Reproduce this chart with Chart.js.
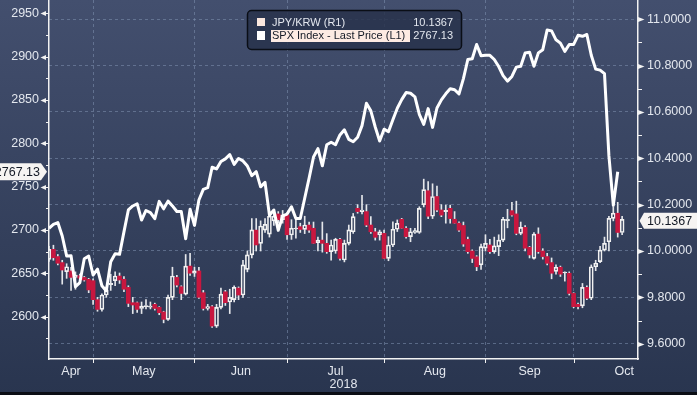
<!DOCTYPE html>
<html>
<head>
<meta charset="utf-8">
<script src="https://cdn.jsdelivr.net/npm/chart.js@4"></script>
<style>
  html, body { margin: 0; padding: 0; background: #2c3852; }
  #wrap { width: 697px; height: 395px; }
</style>
</head>
<body>
<div id="wrap"><canvas id="chart" width="697" height="395"></canvas></div>
<script>
// ── Data (weekday index 0 = first day on the chart) ──────────
const months = ['Apr', 'May', 'Jun', 'Jul', 'Aug', 'Sep', 'Oct'];
const monthStart = [-11, 10, 33, 54, 76, 99, 119, 142]; // first weekday of each month, last = Nov
const yearLabel = '2018';

const leftTickLabels = [2600, 2650, 2700, 2750, 2800, 2850, 2900, 2950];
const rightTickLabels = [9.6, 9.8, 10.0, 10.2, 10.4, 10.6, 10.8, 11.0];

const spxName = 'SPX Index - Last Price (L1)';
const krwName = 'JPY/KRW (R1)';

// SPX Index, left axis
const spx = [
  2702, 2706.4, 2708.6, 2693.1, 2670.1, 2670.3, 2634.6, 2639.4, 2666.9, 2669.9,
  2648.1, 2654.8, 2635.7, 2629.7, 2663.4, 2672.6, 2671.9, 2697.8, 2723.1, 2727.7,
  2730.1, 2711.5, 2722.5, 2720.1, 2713.0, 2733.0, 2724.4, 2733.3, 2727.8, 2721.3,
  2721.3, 2689.9, 2724.0, 2705.3, 2734.6, 2746.9, 2748.8, 2772.4, 2770.4, 2779.0,
  2782.0, 2786.9, 2775.6, 2782.5, 2779.7, 2773.8, 2762.6, 2767.3, 2749.8, 2754.9,
  2717.1, 2723.1, 2699.6, 2716.3, 2718.4, 2726.7, 2713.2, 2713.2, 2736.6, 2759.8,
  2784.2, 2793.8, 2774.0, 2798.3, 2801.3, 2798.4, 2809.6, 2815.6, 2804.5, 2801.8,
  2807.0, 2820.4, 2846.1, 2837.4, 2818.8, 2802.6, 2816.3, 2813.4, 2827.2, 2840.4,
  2850.4, 2858.5, 2857.7, 2853.6, 2833.3, 2821.9, 2840.0, 2818.4, 2840.7, 2850.1,
  2857.1, 2863.0, 2861.8, 2857.0, 2874.7, 2896.7, 2897.5, 2914.0, 2901.1, 2901.5,
  2901.5, 2896.7, 2888.6, 2878.1, 2871.7, 2877.1, 2887.9, 2888.9, 2904.2, 2905.0,
  2888.8, 2904.3, 2908.0, 2930.8, 2929.7, 2919.4, 2915.6, 2906.0, 2914.0, 2914.0,
  2924.6, 2923.4, 2925.5, 2901.6, 2885.6, 2884.4, 2880.3, 2785.7, 2728.4, 2767.13
];

// JPY/KRW daily candles, right axis
const krwOpen = [
  9.964, 10.007, 9.976, 9.95, 9.911, 9.914, 9.886, 9.893, 9.886, 9.878,
  9.872, 9.79, 9.748, 9.81, 9.855, 9.872, 9.892, 9.878, 9.843, 9.777,
  9.777, 9.752, 9.76, 9.758, 9.77, 9.757, 9.737, 9.705, 9.80, 9.886,
  9.846, 9.814, 9.935, 9.904, 9.914, 9.82, 9.752, 9.76, 9.676, 9.757,
  9.824, 9.78, 9.79, 9.84, 9.81, 9.921, 9.983, 10.09, 10.033, 10.09,
  10.073, 10.13, 10.16, 10.135, 10.155, 10.069, 10.095, 10.105, 10.093, 10.112,
  10.098, 10.036, 10.047, 10.033, 9.997, 10.0, 10.05, 9.961, 10.033, 10.083,
  10.184, 10.17, 10.17, 10.112, 10.083, 10.07, 10.076, 9.968, 10.026, 10.094,
  10.137, 10.098, 10.062, 10.08, 10.08, 10.2, 10.26, 10.15, 10.235, 10.177,
  10.17, 10.184, 10.137, 10.12, 10.11, 10.05, 10.0, 9.975, 9.94, 10.012,
  10.026, 9.997, 10.019, 10.047, 10.131, 10.174, 10.16, 10.076, 10.102, 10.016,
  9.968, 10.073, 10.0, 9.976, 9.95, 9.912, 9.93, 9.905, 9.904, 9.817,
  9.77, 9.763, 9.843, 9.796, 9.932, 9.954, 10.004, 10.04, 10.141, 10.163,
  10.08
];
const krwHigh = [
  10.02, 10.025, 9.985, 9.96, 9.945, 9.93, 9.91, 9.90, 9.89, 9.882,
  9.88, 9.80, 9.815, 9.845, 9.90, 9.91, 9.905, 9.89, 9.85, 9.80,
  9.78, 9.78, 9.79, 9.78, 9.775, 9.76, 9.74, 9.81, 9.93, 9.895,
  9.85, 9.985, 9.99, 9.93, 9.93, 9.83, 9.77, 9.765, 9.77, 9.84,
  9.83, 9.835, 9.85, 9.845, 9.96, 10.0, 10.14, 10.14, 10.13, 10.14,
  10.17, 10.17, 10.17, 10.175, 10.165, 10.135, 10.14, 10.12, 10.15, 10.125,
  10.125, 10.06, 10.125, 10.075, 10.047, 10.055, 10.055, 10.047, 10.112, 10.162,
  10.2, 10.24, 10.2, 10.148, 10.098, 10.09, 10.09, 10.062, 10.126, 10.134,
  10.141, 10.105, 10.098, 10.098, 10.191, 10.31, 10.30, 10.29, 10.28, 10.2,
  10.198, 10.198, 10.17, 10.126, 10.125, 10.06, 10.005, 9.98, 10.03, 10.07,
  10.05, 10.06, 10.07, 10.145, 10.18, 10.21, 10.215, 10.125, 10.11, 10.02,
  10.08, 10.10, 10.01, 9.99, 9.97, 9.94, 9.935, 9.91, 9.91, 9.82,
  9.775, 9.86, 9.85, 9.94, 9.96, 10.02, 10.06, 10.15, 10.19, 10.21,
  10.15
];
const krwLow = [
  9.955, 9.96, 9.94, 9.857, 9.882, 9.83, 9.835, 9.875, 9.87, 9.82,
  9.77, 9.74, 9.74, 9.80, 9.83, 9.85, 9.86, 9.825, 9.76, 9.73,
  9.735, 9.73, 9.75, 9.75, 9.745, 9.725, 9.69, 9.70, 9.79, 9.845,
  9.79, 9.81, 9.895, 9.89, 9.795, 9.745, 9.745, 9.67, 9.67, 9.75,
  9.765, 9.73, 9.78, 9.79, 9.80, 9.91, 9.97, 10.0, 10.0, 10.08,
  10.06, 10.11, 10.12, 10.12, 10.05, 10.05, 10.055, 10.08, 10.075, 10.08,
  10.033, 10.0, 9.995, 9.99, 9.96, 9.99, 9.96, 9.953, 10.026, 10.076,
  10.163, 10.16, 10.105, 10.076, 10.047, 10.047, 9.968, 9.958, 10.019, 10.084,
  10.098, 10.055, 10.04, 10.076, 10.076, 10.19, 10.14, 10.14, 10.17, 10.148,
  10.12, 10.12, 10.12, 10.084, 10.02, 9.99, 9.95, 9.915, 9.92, 10.0,
  9.99, 9.99, 9.98, 10.04, 10.10, 10.15, 10.07, 10.07, 10.0, 9.97,
  9.965, 9.99, 9.965, 9.94, 9.88, 9.90, 9.89, 9.87, 9.81, 9.755,
  9.75, 9.755, 9.79, 9.79, 9.915, 9.95, 10.0, 10.0, 10.13, 10.06,
  10.07
];
const krwClose = [
  10.007, 9.971, 9.947, 9.918, 9.932, 9.886, 9.896, 9.882, 9.875, 9.832,
  9.79, 9.748, 9.81, 9.832, 9.86, 9.892, 9.875, 9.835, 9.774, 9.767,
  9.748, 9.762, 9.765, 9.762, 9.752, 9.734, 9.705, 9.80, 9.892, 9.853,
  9.817, 9.935, 9.904, 9.914, 9.80, 9.752, 9.76, 9.676, 9.757, 9.814,
  9.777, 9.80, 9.843, 9.81, 9.94, 9.983, 10.091, 10.026, 10.108, 10.115,
  10.15, 10.15, 10.135, 10.155, 10.07, 10.098, 10.097, 10.093, 10.112, 10.09,
  10.033, 10.047, 10.033, 9.997, 10.026, 10.05, 9.968, 10.033, 10.091, 10.148,
  10.17, 10.177, 10.112, 10.083, 10.059, 10.083, 9.968, 10.026, 10.094, 10.119,
  10.098, 10.062, 10.083, 10.088, 10.184, 10.265, 10.15, 10.235, 10.177, 10.155,
  10.175, 10.14, 10.12, 10.09, 10.03, 9.997, 9.968, 9.932, 10.019, 10.033,
  9.997, 10.022, 10.047, 10.137, 10.137, 10.155, 10.076, 10.102, 10.012, 9.983,
  10.073, 9.997, 9.976, 9.947, 9.904, 9.93, 9.90, 9.907, 9.817, 9.76,
  9.76, 9.843, 9.796, 9.932, 9.947, 10.004, 10.033, 10.141, 10.163, 10.08,
  10.1367
];

// ── Look ─────────────────────────────────────
const FONT = "'Liberation Sans', Arial, sans-serif";
const TXT = '#e3e7ee';
const GRID = 'rgba(128,146,176,0.55)';
const RED = '#c8173f';
const WHITE = '#f2f2f2';
const X_MAX = 133.6;

const lastSpx = spx[spx.length - 1];
const lastKrw = krwClose[krwClose.length - 1];

// x ticks: month boundaries (grid) + month centres (labels)
const xTicks = [];
monthStart.slice(1, -1).forEach(v => xTicks.push({ value: v, label: '', edge: true }));
months.forEach((m, k) => {
  const a = Math.max(monthStart[k], 0);
  const b = monthStart[k + 1];
  xTicks.push({ value: Math.min((a + b) / 2, X_MAX - 3), label: m, edge: false });
});
xTicks.sort((p, q) => p.value - q.value);

const leftTicks = [];
leftTickLabels.forEach(v => { leftTicks.push(v - 25); leftTicks.push(v); });
const rightTicks = [];
rightTickLabels.forEach(v => { rightTicks.push(v); rightTicks.push(+(v + 0.1).toFixed(1)); });

const isUp = i => krwClose[i] >= krwOpen[i];
const idx = krwClose.map((_, i) => i);

// ── Plugins ───────────────────────────────────
const bgPlugin = {
  id: 'bg',
  beforeDraw(chart) {
    const { ctx, width, height } = chart;
    const g = ctx.createLinearGradient(0, 0, 0, height);
    g.addColorStop(0, '#434f6e');
    g.addColorStop(1, '#29354f');
    ctx.save();
    ctx.fillStyle = g;
    ctx.fillRect(0, 0, width, height);
    ctx.fillStyle = '#0b0e15';
    ctx.fillRect(0, height - 3, width, 3);
    ctx.restore();
  }
};

function tagPath(ctx, pts) {
  ctx.beginPath();
  pts.forEach((p, k) => k ? ctx.lineTo(p[0], p[1]) : ctx.moveTo(p[0], p[1]));
  ctx.closePath();
}

const decoPlugin = {
  id: 'deco',
  afterDraw(chart) {
    const ctx = chart.ctx;
    const { left, right, bottom } = chart.chartArea;
    const yl = chart.scales.y, yr = chart.scales.y1, xs = chart.scales.x;
    ctx.save();
    ctx.fillStyle = WHITE;
    ctx.strokeStyle = WHITE;
    ctx.lineWidth = 1;

    // left axis marks
    leftTicks.forEach(v => {
      if (v < yl.min || v > yl.max) return;
      const p = Math.round(yl.getPixelForValue(v)) + 0.5;
      if (v % 50 === 0) {
        ctx.beginPath(); ctx.moveTo(45, p); ctx.lineTo(left, p); ctx.stroke();
        tagPath(ctx, [[40.5, p], [46, p - 2.5], [46, p + 2.5]]); ctx.fill();
      } else {
        ctx.beginPath(); ctx.moveTo(left - 3, p); ctx.lineTo(left, p); ctx.stroke();
      }
    });
    // right axis marks
    rightTicks.forEach(v => {
      if (v < yr.min || v > yr.max) return;
      const p = Math.round(yr.getPixelForValue(v)) + 0.5;
      if (Math.round(v * 10) % 2 === 0) {
        tagPath(ctx, [[right, p - 2.5], [right + 6.5, p], [right, p + 2.5]]); ctx.fill();
      } else {
        ctx.beginPath(); ctx.moveTo(right, p); ctx.lineTo(right + 4, p); ctx.stroke();
      }
    });
    // month boundary marks
    xTicks.filter(t => t.edge).forEach(t => {
      const p = Math.round(xs.getPixelForValue(t.value)) + 0.5;
      ctx.beginPath(); ctx.moveTo(p, bottom); ctx.lineTo(p, bottom + 4); ctx.stroke();
    });

    // last value tags
    ctx.font = '12.5px ' + FONT;
    ctx.textBaseline = 'middle';
    const pl = yl.getPixelForValue(lastSpx);
    ctx.fillStyle = '#f6f4f2';
    tagPath(ctx, [[-2, pl - 8.5], [41, pl - 8.5], [47, pl], [41, pl + 8.5], [-2, pl + 8.5]]);
    ctx.fill();
    ctx.fillStyle = '#141a26';
    ctx.textAlign = 'right';
    ctx.fillText(lastSpx.toFixed(2), 40, pl + 0.5);

    const pr = yr.getPixelForValue(lastKrw) + 1.5;
    ctx.fillStyle = '#f6f4f2';
    tagPath(ctx, [[right + 1.5, pr], [right + 6, pr - 8], [chart.width + 2, pr - 8], [chart.width + 2, pr + 8], [right + 6, pr + 8]]);
    ctx.fill();
    ctx.fillStyle = '#141a26';
    ctx.textAlign = 'left';
    ctx.fillText(lastKrw.toFixed(4), right + 9, pr + 0.5);

    // legend box
    ctx.beginPath();
    ctx.roundRect(247.5, 10.5, 214, 39, 4);
    ctx.fillStyle = 'rgba(40,51,75,0.85)';
    ctx.fill();
    ctx.strokeStyle = '#0a0e16';
    ctx.lineWidth = 1.5;
    ctx.stroke();

    ctx.font = '11px ' + FONT;
    ctx.fillStyle = '#fbe8df';
    ctx.fillRect(257, 18, 8, 8);
    ctx.fillStyle = '#ffffff';
    ctx.fillRect(257, 31, 8, 9);
    ctx.fillStyle = TXT;
    ctx.textAlign = 'left';
    ctx.fillText(krwName, 272, 23);
    ctx.fillStyle = '#fdebe3';
    ctx.fillRect(271, 30, 139, 12);
    ctx.fillStyle = '#141a26';
    ctx.fillText(spxName, 272, 36);
    ctx.fillStyle = TXT;
    ctx.textAlign = 'right';
    ctx.fillText(lastKrw.toFixed(4), 453, 23);
    ctx.fillText(lastSpx.toFixed(2), 453, 36);
    ctx.restore();
  }
};

// ── Chart ─────────────────────────────────────
const tickFont = { family: FONT, size: 12.5 };

new Chart(document.getElementById('chart'), {
  type: 'bar',
  data: {
    datasets: [
      {
        type: 'line',
        label: spxName,
        data: spx.map((v, i) => ({ x: i, y: v })),
        yAxisID: 'y',
        borderColor: '#ffffff',
        borderWidth: 3,
        borderJoinStyle: 'round',
        pointRadius: 0,
        tension: 0,
        order: 0
      },
      {
        label: 'wick hi',
        data: idx.map(i => ({ x: i, y: [Math.max(krwOpen[i], krwClose[i]), krwHigh[i]] })),
        yAxisID: 'y1',
        backgroundColor: '#e4e6ea',
        barThickness: 1,
        grouped: false,
        order: 3
      },
      {
        label: 'wick lo',
        data: idx.map(i => ({ x: i, y: [krwLow[i], Math.min(krwOpen[i], krwClose[i])] })),
        yAxisID: 'y1',
        backgroundColor: '#e4e6ea',
        barThickness: 1,
        grouped: false,
        order: 3
      },
      {
        label: krwName,
        data: idx.map(i => ({ x: i, y: [krwOpen[i], krwClose[i]] })),
        yAxisID: 'y1',
        backgroundColor: c => isUp(c.dataIndex) ? 'rgba(0,0,0,0)' : RED,
        borderColor: c => isUp(c.dataIndex) ? WHITE : RED,
        borderWidth: c => isUp(c.dataIndex) ? 1 : 0,
        borderSkipped: false,
        barThickness: 4,
        minBarLength: 1,
        grouped: false,
        order: 2
      }
    ]
  },
  options: {
    responsive: false,
    animation: false,
    devicePixelRatio: 1,
    layout: { padding: 0 },
    plugins: { legend: { display: false }, tooltip: { enabled: false } },
    scales: {
      x: {
        type: 'linear',
        position: 'bottom',
        min: 0,
        max: X_MAX,
        offset: false,
        afterBuildTicks: s => { s.ticks = xTicks.map(t => ({ value: t.value })); },
        afterFit: s => { s.height = 36; s.paddingLeft = 0; s.paddingRight = 0; },
        ticks: {
          autoSkip: false,
          maxRotation: 0,
          minRotation: 0,
          padding: 5,
          color: TXT,
          font: tickFont,
          callback: (v, i) => xTicks[i] ? xTicks[i].label : ''
        },
        grid: {
          offset: false,
          drawTicks: false,
          color: c => (c.tick && xTicks[c.index] && xTicks[c.index].edge) ? GRID : 'rgba(0,0,0,0)'
        },
        border: { display: true, color: WHITE, width: 1.5, dash: [3, 3] },
        title: { display: true, text: yearLabel, color: TXT, font: tickFont, padding: { top: 0, bottom: 3 } }
      },
      y: {
        position: 'left',
        min: 2551.2,
        max: 2965.3,
        afterBuildTicks: s => { s.ticks = leftTicks.map(v => ({ value: v })); },
        afterFit: s => { s.width = 49; s.paddingTop = 0; s.paddingBottom = 0; },
        ticks: {
          autoSkip: false,
          padding: 10,
          color: TXT,
          font: tickFont,
          callback: v => v % 50 === 0 ? String(v) : ''
        },
        grid: { display: false, drawTicks: false },
        border: { display: true, color: WHITE, width: 1.5 }
      },
      y1: {
        position: 'right',
        min: 9.534,
        max: 11.083,
        afterBuildTicks: s => { s.ticks = rightTicks.map(v => ({ value: v })); },
        afterFit: s => { s.width = 59; s.paddingTop = 0; s.paddingBottom = 0; },
        ticks: {
          autoSkip: false,
          padding: 9,
          color: TXT,
          font: tickFont,
          callback: v => Math.round(v * 10) % 2 === 0 ? v.toFixed(4) : ''
        },
        grid: {
          drawTicks: false,
          color: c => (c.tick && Math.round(c.tick.value * 10) % 2 === 0) ? GRID : 'rgba(0,0,0,0)'
        },
        border: { display: true, color: WHITE, width: 1.5, dash: [3, 3] }
      }
    }
  },
  plugins: [bgPlugin, decoPlugin]
});
</script>
</body>
</html>
